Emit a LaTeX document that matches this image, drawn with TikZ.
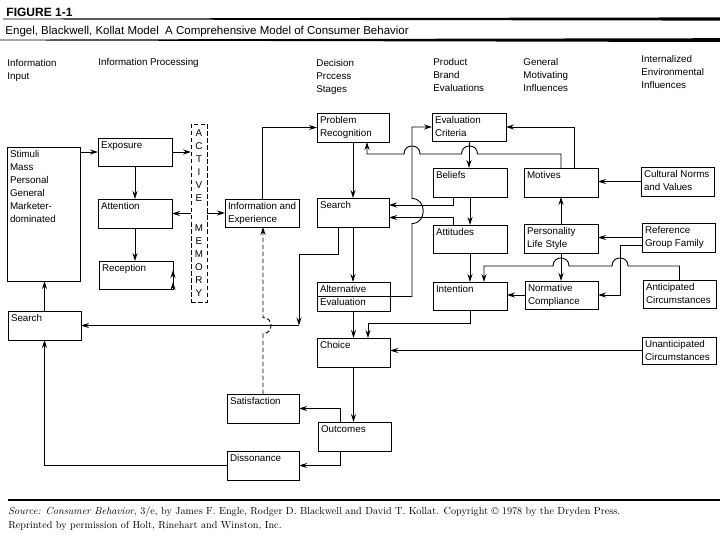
\documentclass[tikz,border=0pt]{standalone}
\usepackage{fontspec}
\newfontfamily\lab{Liberation Sans}
\usetikzlibrary{arrows.meta,calc}
\newcommand\bx[6]{\node[box] (#1) at (#2,#3) {\parbox[c][\dimexpr #5pt-#3pt-2pt\relax][t]{\dimexpr #4pt-#2pt-6pt\relax}{\begin{tabular}[t]{@{}l@{}}#6\end{tabular}}};}
\begin{document}
\begin{tikzpicture}[x=1pt,y=-1pt, line width=0.9pt,
  font=\lab\fontsize{9.8}{13}\selectfont,
  box/.style={draw, anchor=north west, inner xsep=3pt, inner ysep=1pt, outer sep=0pt},
  arr/.style={-{Stealth[length=8pt,width=5pt]}},
  hdr/.style={anchor=north west, inner sep=0pt, align=left},
  dsh/.style={dash pattern=on 4.5pt off 2.5pt}]
\fill[white] (0,0) rectangle (720,540);
\useasboundingbox (0,0) rectangle (720,540);

% title block
\node[hdr, font=\lab\bfseries\fontsize{12}{14}\selectfont] (fig) at (6,8) {FIGURE 1-1};
\fill (3,18.6) -- (720,17.4) -- (720,20.6) -- (3,19.4) -- cycle;
\node[hdr, font=\lab\fontsize{11.5}{14}\selectfont] (title) at (5,25.5) {Engel, Blackwell, Kollat Model\ \ A Comprehensive Model of Consumer Behavior};
\fill (0,39.6) -- (720,38.2) -- (720,42) -- (0,40.4) -- cycle;

% column headers
\node[hdr] (h1) at (7,58.5) {Information\\Input};
\node[hdr] (h2) at (98,57.5) {Information Processing};
\node[hdr] (h3) at (316,58.5) {Decision\\Prccess\\Stages};
\node[hdr] (h4) at (433,57.5) {Product\\Brand\\Evaluations};
\node[hdr] (h5) at (523,57.5) {General\\Motivating\\Influences};
\node[hdr] (h6) at (641,54.5) {Internalized\\Environmental\\Influences};

% boxes
\bx{stim}{7}{147}{80}{281}{Stimuli\\Mass\\Personal\\General\\Marketer-\\dominated}
\bx{lsearch}{8}{311}{81}{340}{Search}
\bx{expo}{98}{138}{172}{166}{Exposure}
\bx{atten}{98}{199}{172}{228}{Attention}
\bx{recep}{99}{261}{173}{289}{Reception}
\node[draw, dsh, minimum width=16pt, minimum height=178pt, inner sep=0pt, outer sep=0pt, align=center] (mem) at (199,213) {A\\C\\T\\I\\V\\E\\[17pt]M\\E\\M\\O\\R\\Y};
\bx{info}{225}{199}{299}{227}{Information and\\Experience}
\bx{prob}{317}{113}{389}{142}{Problem\\Recognition}
\bx{msearch}{317}{198}{389}{227}{Search}
\bx{alt}{317}{282}{390}{311}{Alternative\\Evaluation}
\bx{choice}{317}{338}{390}{367}{Choice}
\bx{outc}{318}{422}{391}{451}{Outcomes}
\bx{satis}{227}{394}{299}{423}{Satisfaction}
\bx{disso}{227}{451}{299}{480}{Dissonance}
\bx{evalc}{432}{113}{506}{141}{Evaluation\\Criteria}
\bx{beliefs}{433}{168}{507}{197}{Beliefs}
\bx{attit}{433}{225}{507}{253}{Attitudes}
\bx{intent}{433}{282}{507}{310}{Intention}
\bx{motives}{524}{168}{598}{197}{Motives}
\bx{pers}{524}{224}{598}{253}{Personality\\Life Style}
\bx{norm}{525}{281}{598}{309}{Normative\\Compliance}
\bx{cult}{641}{167}{714}{196}{Cultural Norms\\and Values}
\bx{refg}{642}{223}{715}{252}{Reference\\Group Family}
\bx{antic}{643}{280}{716}{308}{Anticipated\\Circumstances}
\bx{unant}{642}{337}{716}{364}{Unanticipated\\Circumstances}

% information processing
\draw[arr] (expo.west -| stim.east) -- (expo.west);
\draw[arr] (expo.south) -- (atten.north);
\draw[arr] (atten.south) -- (atten.south |- recep.north);
\draw[arr] (expo.east) -- (expo.east -| mem.west);
\draw[arr] (atten.east -| mem.west) -- (atten.east);
\draw[arr] ($(recep.east)+(0,-5)$ -| mem.west) -- ($(recep.east)+(0,-5)$);
\draw[arr] ($(recep.east)+(0,7)$) -- ($(recep.east)+(0,7)$ -| mem.west);
\draw[arr] (info.west -| mem.east) -- (info.west);
\draw[arr] (info.north) |- (prob.west);
\draw[arr] (lsearch.north) -- (lsearch.north |- stim.south);

% decision process
\draw[arr] (prob.south) -- (msearch.north);
\draw[arr] (msearch.south) -- (msearch.south |- alt.north);
\draw[arr] (alt.south) -- (choice.north);
\draw[arr] (choice.south) -- (choice.south |- outc.north);
\draw[arr] ($(outc.north west)+(22,0)$) |- (satis.east);
\draw[arr] ($(outc.south west)+(22,0)$) |- (disso.east);
\draw[arr] (disso.west) -| (lsearch.south);
\coordinate (sx) at (299,0);
\coordinate (sc) at (lsearch.east -| sx);
\draw[arr] ($(msearch.south west)+(21,0)$) -- ++(0,27) -| (sc);
\draw[arr] (sc) -- (lsearch.east);
\draw[arr, dsh] (satis.north) -- (263,333.5) .. controls (273.7,333.5) and (273.7,317.5) .. (263,317.5) -- (satis.north |- info.south);

% product brand evaluations
\draw[arr] (evalc.south) -- (evalc.south |- beliefs.north);
\draw[arr] (beliefs.south) -- (attit.north);
\draw[arr] (attit.south) -- (intent.north);
\draw[arr] ($(beliefs.south west)+(20,0)$) |- ($(msearch.east)+(0,-7.5)$);
\draw[arr] ($(attit.north west)+(20,0)$) |- ($(msearch.east)+(0,5)$);
\draw[arr] (alt.west) -- (412,296.5) -- (412,223.5) .. controls (427,223.5) and (427,198.5) .. (412,198.5) -- (412,127) -- (evalc.west);
\draw[arr] (norm.west) -- (norm.west -| intent.east);
\draw[arr] (intent.south) |- ($(choice.north west)+(51,-15)$) -- ($(choice.north west)+(51,0)$);

% motivating influences
\draw[arr] (motives.north) -- (561,154) -- (477.5,154) .. controls (477.5,143.3) and (461.5,143.3) .. (461.5,154) -- (420,154) .. controls (420,143.3) and (404,143.3) .. (404,154) -| ($(prob.south west)+(50,0)$);
\draw[arr] ($(motives.north)+(13,0)$) |- (evalc.east);
\draw[arr] (pers.north) -- (motives.south);
\draw[arr] (pers.south) -- (pers.south |- norm.north);

% environmental influences
\draw[arr] (cult.west) -- (cult.west -| motives.east);
\draw[arr] (refg.west) -- (refg.west -| pers.east);
\draw[arr] ($(refg.west)+(0,8)$) -| (620,295) -- (norm.east);
\draw[arr] (antic.north) |- (628,266) .. controls (628,255.3) and (612,255.3) .. (612,266) -- (569,266) .. controls (569,255.3) and (553,255.3) .. (553,266) -| ($(intent.north west)+(51,0)$);
\draw[arr] (unant.west) -- (unant.west -| choice.east);

% footer
\draw[line width=1.2pt] (8,500) -- (720,500);
\node[hdr, font=\rmfamily\fontsize{10.2}{14}\selectfont] (src) at (8,506) {\textit{Source: Consumer Behavior}, 3/e, by James F. Engle, Rodger D. Blackwell and David T. Kollat. Copyright \textcopyright\ 1978 by the Dryden Press.\\Reprinted by permission of Holt, Rinehart and Winston, Inc.};
\end{tikzpicture}
\end{document}
